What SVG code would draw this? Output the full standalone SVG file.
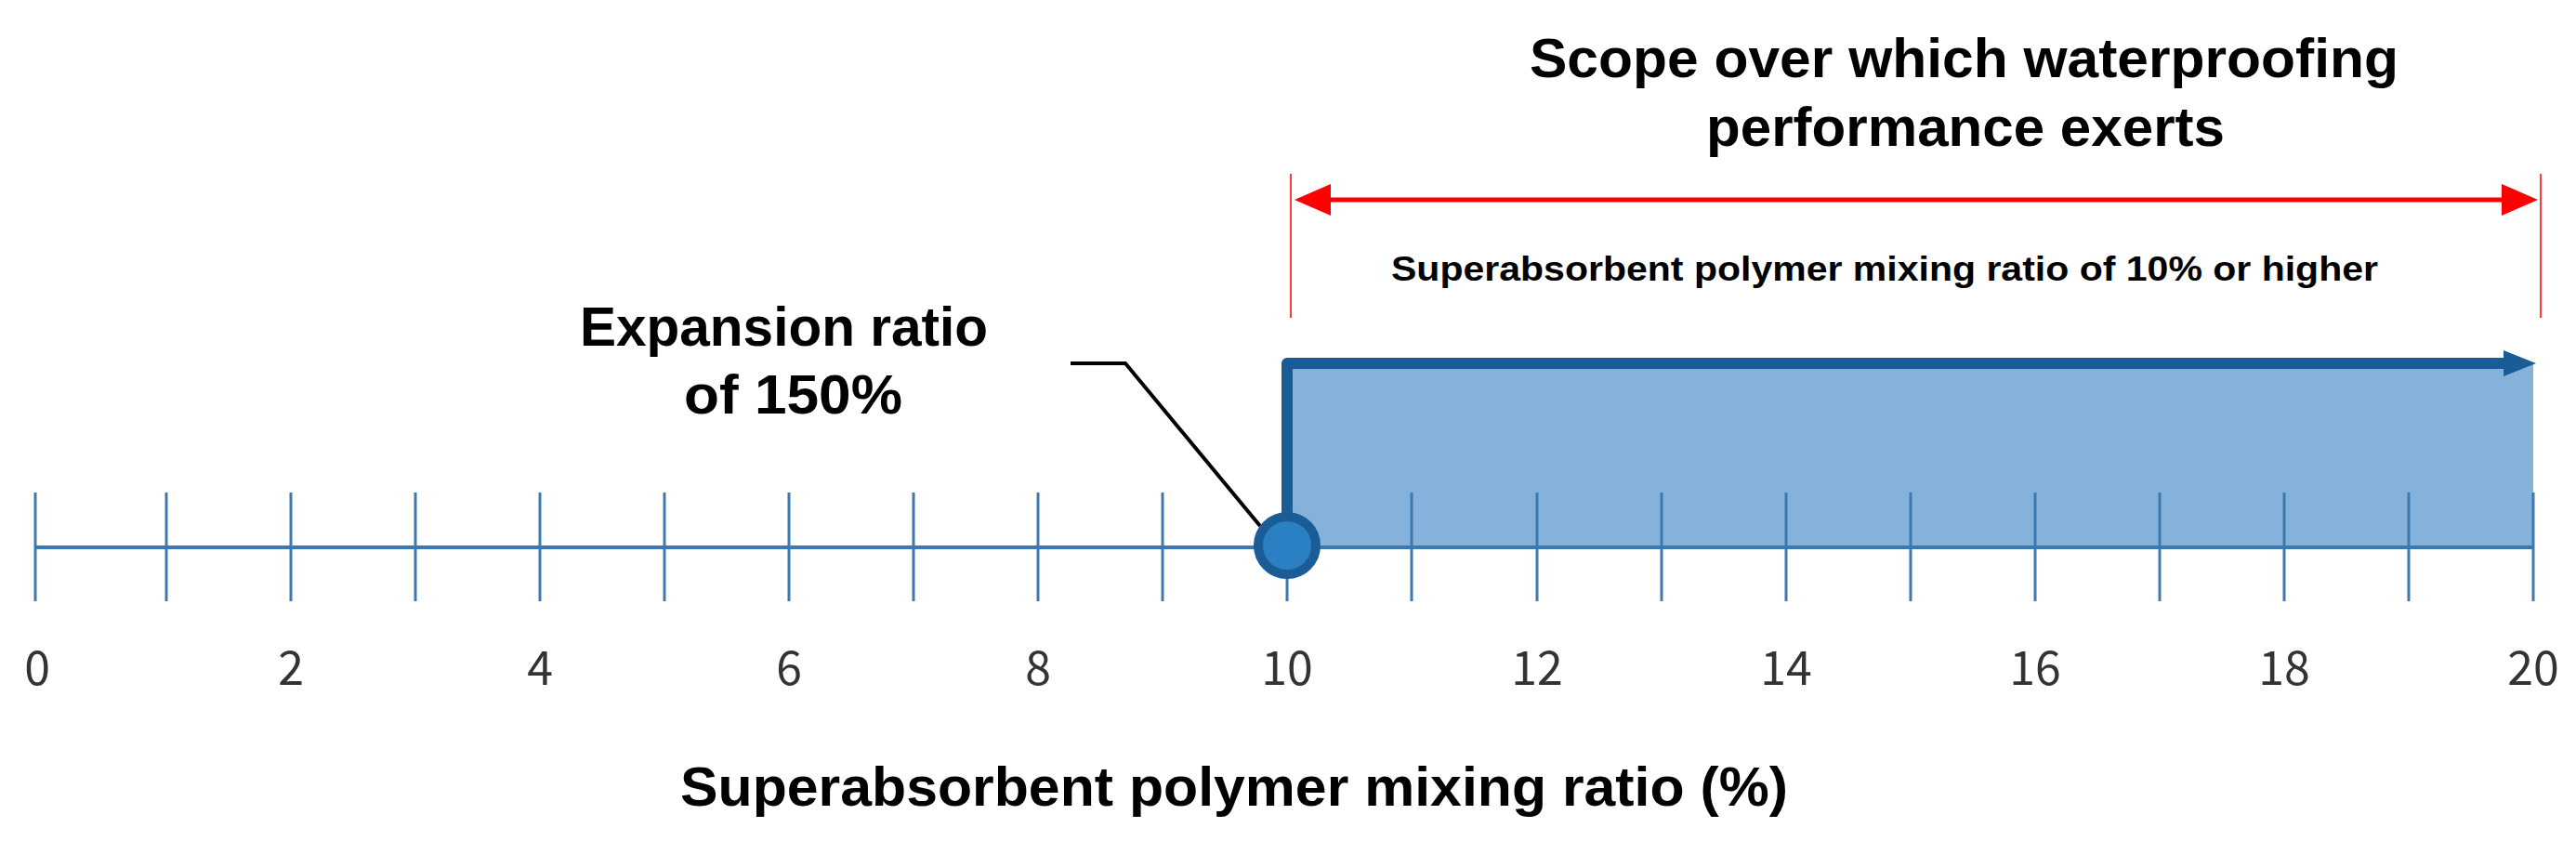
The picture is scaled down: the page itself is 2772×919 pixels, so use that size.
<svg xmlns="http://www.w3.org/2000/svg" width="2772" height="919" viewBox="0 0 2772 919">
<style>
.bold{font-family:"Liberation Sans",Arial,sans-serif;font-weight:bold;fill:#000}
.big{font-size:60px}
.sub{font-size:37px}
.num{font-family:"Noto Sans CJK KR","Liberation Sans",sans-serif;font-size:50px;fill:#333;text-anchor:middle}
.tick{stroke:#3d78ae;stroke-width:3}
.redv{stroke:#ff3b3b;stroke-width:2}
</style>
<rect width="2772" height="919" fill="#fff"/>
<g id="region">
<rect x="1385" y="391" width="1341" height="198" fill="#84b2da"/>
</g>
<g id="axis">
<line x1="38" y1="589" x2="2726" y2="589" stroke="#3d78ae" stroke-width="4"/>
<g class="tick">
<line x1="38" y1="530" x2="38" y2="647"/>
<line x1="179" y1="530" x2="179" y2="647"/>
<line x1="313" y1="530" x2="313" y2="647"/>
<line x1="447" y1="530" x2="447" y2="647"/>
<line x1="581" y1="530" x2="581" y2="647"/>
<line x1="715" y1="530" x2="715" y2="647"/>
<line x1="849" y1="530" x2="849" y2="647"/>
<line x1="983" y1="530" x2="983" y2="647"/>
<line x1="1117" y1="530" x2="1117" y2="647"/>
<line x1="1251" y1="530" x2="1251" y2="647"/>
<line x1="1385" y1="530" x2="1385" y2="647"/>
<line x1="1519" y1="530" x2="1519" y2="647"/>
<line x1="1654" y1="530" x2="1654" y2="647"/>
<line x1="1788" y1="530" x2="1788" y2="647"/>
<line x1="1922" y1="530" x2="1922" y2="647"/>
<line x1="2056" y1="530" x2="2056" y2="647"/>
<line x1="2190" y1="530" x2="2190" y2="647"/>
<line x1="2324" y1="530" x2="2324" y2="647"/>
<line x1="2458" y1="530" x2="2458" y2="647"/>
<line x1="2592" y1="530" x2="2592" y2="647"/>
<line x1="2726" y1="530" x2="2726" y2="647"/>
</g>
</g>
<g id="tick-labels">
<text class="num" x="40" y="737">0</text>
<text class="num" x="313" y="737">2</text>
<text class="num" x="581" y="737">4</text>
<text class="num" x="849" y="737">6</text>
<text class="num" x="1117" y="737">8</text>
<text class="num" x="1385" y="737">10</text>
<text class="num" x="1654" y="737">12</text>
<text class="num" x="1922" y="737">14</text>
<text class="num" x="2190" y="737">16</text>
<text class="num" x="2458" y="737">18</text>
<text class="num" x="2726" y="737">20</text>
</g>
<g id="axis-title">
<text class="bold big" x="732" y="867" textLength="1192" lengthAdjust="spacingAndGlyphs">Superabsorbent polymer mixing ratio (%)</text>
</g>
<g id="scope-title">
<text class="bold big" x="1646" y="83" textLength="935" lengthAdjust="spacingAndGlyphs">Scope over which waterproofing</text>
<text class="bold big" x="1836" y="157" textLength="558" lengthAdjust="spacingAndGlyphs">performance exerts</text>
</g>
<g id="scope-note">
<text class="bold sub" x="1497" y="302" textLength="1062" lengthAdjust="spacingAndGlyphs">Superabsorbent polymer mixing ratio of 10% or higher</text>
</g>
<g id="expansion-label">
<text class="bold big" x="624" y="372" textLength="439" lengthAdjust="spacingAndGlyphs">Expansion ratio</text>
<text class="bold big" x="736" y="445" textLength="235" lengthAdjust="spacingAndGlyphs">of 150%</text>
</g>
<g id="connectors">
<line class="redv" x1="1389" y1="187" x2="1389" y2="342"/>
<line class="redv" x1="2734" y1="187" x2="2734" y2="342"/>
<line x1="1420" y1="215" x2="2705" y2="215" stroke="#ff0000" stroke-width="5"/>
<path d="M1393,215 L1432,198 L1432,232 Z" fill="#ff0000"/>
<path d="M2731,215 L2692,198 L2692,232 Z" fill="#ff0000"/>
<polyline points="1152,391 1211,391 1356,566" fill="none" stroke="#000" stroke-width="4"/>
<polyline points="1385,580 1385,391 2700,391" fill="none" stroke="#1a5d96" stroke-width="12" stroke-linejoin="round"/>
<path d="M2694,377 L2729,391 L2694,405 Z" fill="#1a5d96"/>
</g>
<g id="point-10">
<circle cx="1385" cy="587" r="31" fill="#2a80c2" stroke="#1a5d96" stroke-width="10"/>
</g>
</svg>
